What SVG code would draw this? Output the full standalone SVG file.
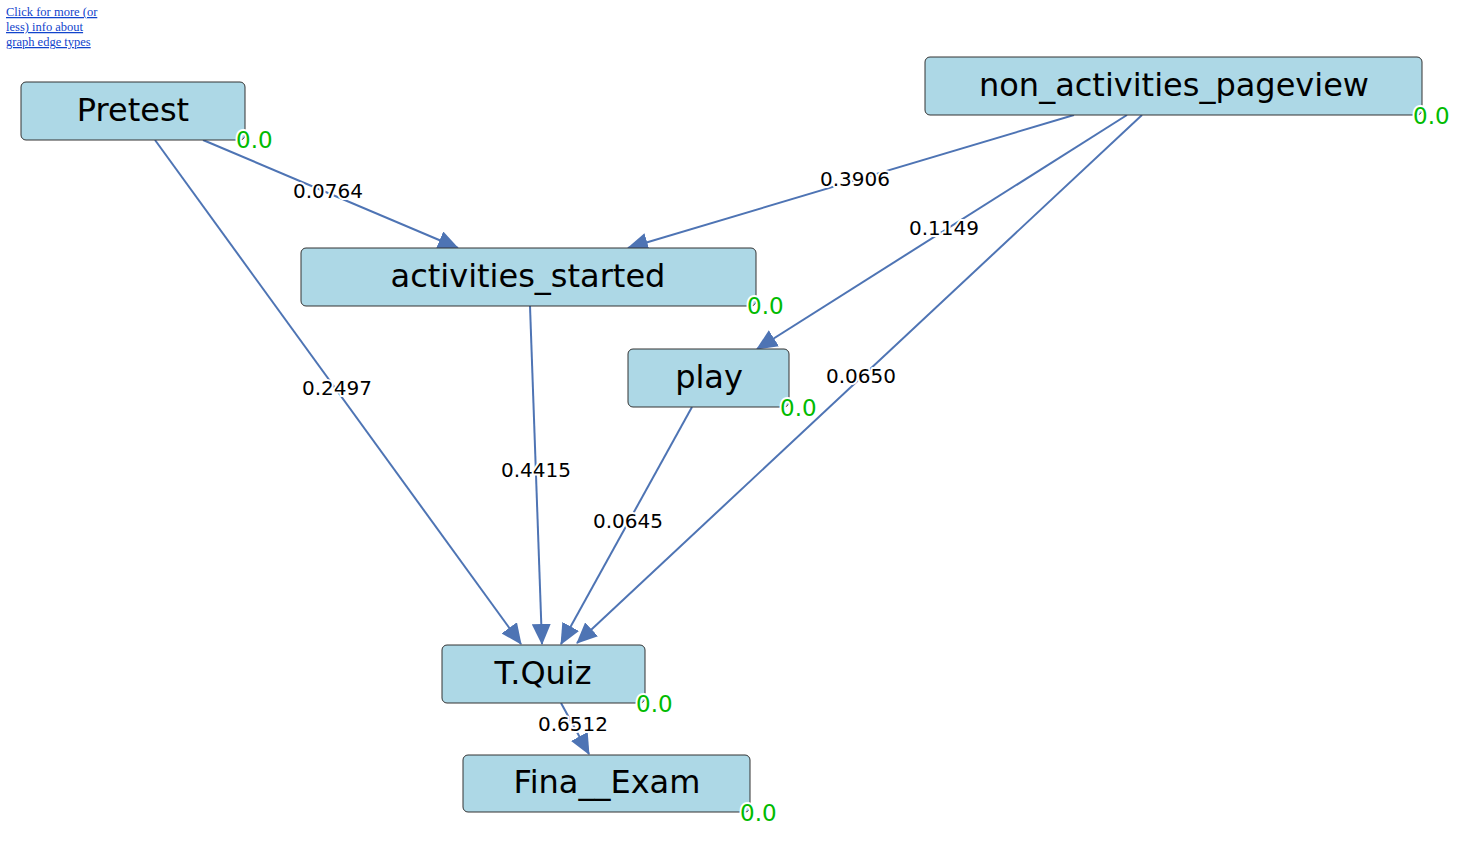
<svg xmlns="http://www.w3.org/2000/svg" width="1460" height="856" viewBox="0 0 1460 856">
<style>
.node rect{fill:#add8e6;stroke:#333;stroke-width:1}
.node text.name{font-family:"DejaVu Sans",sans-serif;font-size:32px;fill:#000;text-anchor:middle}
.node text.val{font-family:"DejaVu Sans",sans-serif;font-size:23px;fill:#00bb00;paint-order:stroke;stroke:#fff;stroke-width:4;stroke-linejoin:round}
.edge{fill:none;stroke:#4e74b4;stroke-width:2;marker-end:url(#arr)}
.lbl{font-family:"DejaVu Sans",sans-serif;font-size:20px;fill:#000;text-anchor:middle;paint-order:stroke;stroke:#fff;stroke-width:4;stroke-linejoin:round}
.link{font-family:"Liberation Serif",serif;font-size:12.5px;fill:#1144cc;text-decoration:underline}
</style>
<defs>
<marker id="arr" markerUnits="userSpaceOnUse" markerWidth="21" markerHeight="19" refX="20" refY="9.5" orient="auto" viewBox="0 0 21 19">
<path d="M0,0 L21,9.5 L0,19 z" fill="#4e74b4"/>
</marker>
</defs>
<rect width="1460" height="856" fill="#fff"/>
<g id="info-link">
<text class="link" x="6" y="16">Click for more (or</text>
<text class="link" x="6" y="31">less) info about</text>
<text class="link" x="6" y="46">graph edge types</text>
</g>
<g id="connectors">
<path class="edge" d="M203,140 L458,248"/>
<path class="edge" d="M155,140 L521,644"/>
<path class="edge" d="M1074,115 L628,248"/>
<path class="edge" d="M1127,115 L757,349"/>
<path class="edge" d="M1142,115 L577,643"/>
<path class="edge" d="M530,306 L542,644"/>
<path class="edge" d="M692,407 L561,644"/>
<path class="edge" d="M561,703 L589,754"/>
<text class="lbl" x="328" y="198">0.0764</text>
<text class="lbl" x="337" y="395">0.2497</text>
<text class="lbl" x="855" y="186">0.3906</text>
<text class="lbl" x="944" y="235">0.1149</text>
<text class="lbl" x="861" y="383">0.0650</text>
<text class="lbl" x="536" y="477">0.4415</text>
<text class="lbl" x="628" y="528">0.0645</text>
<text class="lbl" x="573" y="731">0.6512</text>
</g>
<g id="node-pretest" class="node">
<rect x="21" y="82" width="224" height="58" rx="5"/>
<text class="name" x="133" y="121">Pretest</text>
<text class="val" x="236" y="148">0.0</text>
</g>
<g id="node-non_activities_pageview" class="node">
<rect x="925" y="57" width="497" height="58" rx="5"/>
<text class="name" x="1174" y="96">non_activities_pageview</text>
<text class="val" x="1413" y="124">0.0</text>
</g>
<g id="node-activities_started" class="node">
<rect x="301" y="248" width="455" height="58" rx="5"/>
<text class="name" x="528" y="287">activities_started</text>
<text class="val" x="747" y="314">0.0</text>
</g>
<g id="node-play" class="node">
<rect x="628" y="349" width="161" height="58" rx="5"/>
<text class="name" x="709" y="388">play</text>
<text class="val" x="780" y="416">0.0</text>
</g>
<g id="node-tquiz" class="node">
<rect x="442" y="645" width="203" height="58" rx="5"/>
<text class="name" x="543" y="684">T.Quiz</text>
<text class="val" x="636" y="712">0.0</text>
</g>
<g id="node-final-exam" class="node">
<rect x="463" y="755" width="287" height="57" rx="5"/>
<text class="name" x="607" y="793">Fina__Exam</text>
<text class="val" x="740" y="821">0.0</text>
</g>
</svg>
